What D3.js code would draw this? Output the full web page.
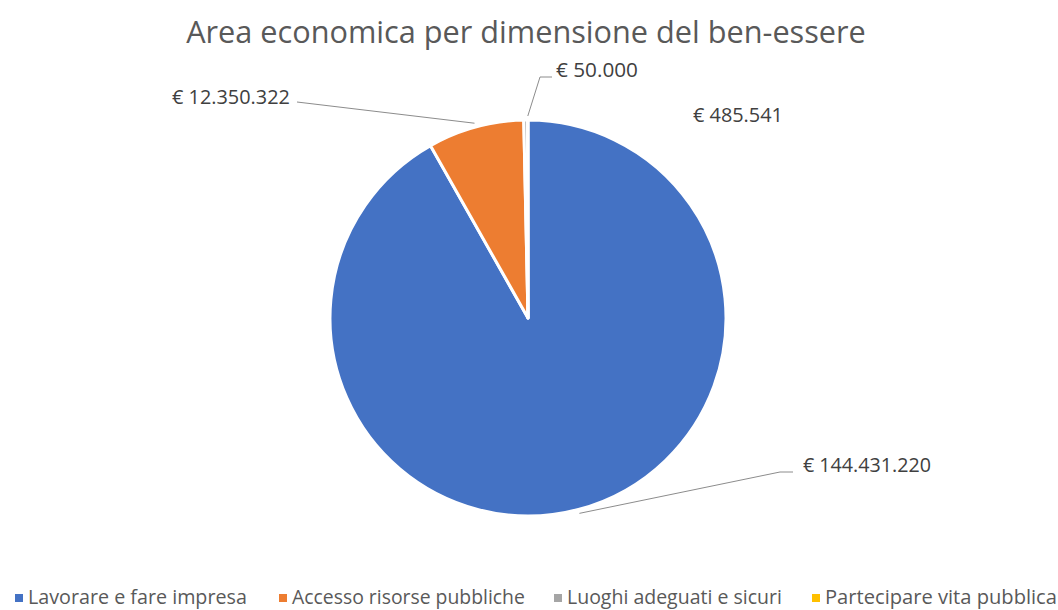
<!DOCTYPE html>
<html><head><meta charset="utf-8">
<script src="https://cdn.jsdelivr.net/npm/d3@7/dist/d3.min.js"></script>
<style>body{margin:0;background:#fff}svg{display:block}</style>
</head><body>
<script>
const categories = ["Lavorare e fare impresa","Accesso risorse pubbliche","Luoghi adeguati e sicuri","Partecipare vita pubblica"];
const values = [144431220, 12350322, 485541, 50000];
const labels = ["€ 144.431.220","€ 12.350.322","€ 485.541","€ 50.000"];
const colors = ["#4472C4","#ED7D31","#A5A5A5","#FFC000"];
const title = "Area economica per dimensione del ben-essere";

// layout (not data)
const W=1058,H=610, cx=528, cy=318, R=198;
const labelAnchor = [[803,466],[172,98],[693,116],[556,71]];
const leaderElbow = [[793,472,780],[297,102,null],null,[552,77,540]];

const font = "'Open Sans', 'Liberation Sans', sans-serif";
const svg = d3.select("body").append("svg").attr("width",W).attr("height",H);

function fitText(sel, target){
  const w = sel.node().getComputedTextLength();
  const fs = parseFloat(sel.attr("font-size"));
  sel.attr("font-size", fs*target/w);
}

const t = svg.append("text").attr("x",526).attr("y",43).attr("text-anchor","middle")
  .attr("font-family",font).attr("font-size",26).attr("fill","#595959").text(title);
fitText(t, 680);

const pie = d3.pie().sort(null).value(d=>d)(values);
const arc = d3.arc().innerRadius(0).outerRadius(R);
const g = svg.append("g").attr("transform",`translate(${cx},${cy})`);
g.selectAll("path").data(pie).join("path")
  .attr("d",arc).attr("fill",(d,i)=>colors[i])
  .attr("stroke","#fff").attr("stroke-width",3).attr("stroke-linejoin","round");

// leader lines
pie.forEach((d,i)=>{
  const e = leaderElbow[i]; if(!e) return;
  const a = (d.startAngle+d.endAngle)/2;
  const px = cx + (R+4)*Math.sin(a), py = cy - (R+4)*Math.cos(a);
  const pts = e[2]==null ? [[e[0],e[1]],[px,py]] : [[e[0],e[1]],[e[2],e[1]],[px,py]];
  svg.append("path").attr("d",d3.line()(pts)).attr("fill","none")
    .attr("stroke","#8c8c8c").attr("stroke-width",1);
});

// data labels
const labW = [128,118,90,82];
labels.forEach((l,i)=>{
  const s = svg.append("text").attr("x",labelAnchor[i][0]).attr("y",labelAnchor[i][1]+6)
    .attr("font-family",font).attr("font-size",16).attr("fill","#404040").text(l);
  fitText(s, labW[i]);
});

// legend
const legX = [15,279,554,812];
const legW = [219,233,215,232];
categories.forEach((c,i)=>{
  svg.append("rect").attr("x",legX[i]).attr("y",594).attr("width",8).attr("height",8).attr("fill",colors[i]);
  const s = svg.append("text").attr("x",legX[i]+13).attr("y",604)
    .attr("font-family",font).attr("font-size",15).attr("fill","#595959").text(c);
  fitText(s, legW[i]);
});
</script>
</body></html>
